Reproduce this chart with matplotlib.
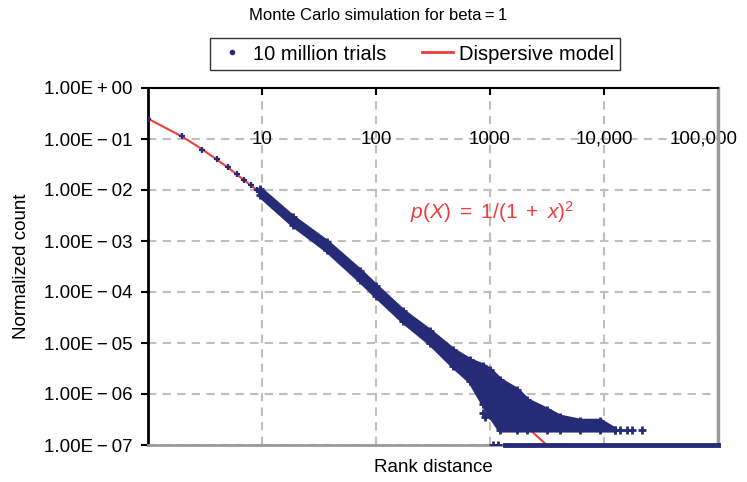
import matplotlib.pyplot as plt
from matplotlib.lines import Line2D

plt.rcParams['font.family'] = ['Liberation Sans', 'DejaVu Sans']
plt.rcParams['mathtext.fontset'] = 'custom'
plt.rcParams['mathtext.rm'] = 'Liberation Sans'
plt.rcParams['mathtext.it'] = 'Liberation Sans:italic'

NAVY = '#262b78'
RED = '#f23c3c'

# single ranks at the head of the distribution
head_rank = [1, 2, 3, 4, 5, 6, 7, 8, 9, 10, 11, 12, 13, 14, 15, 16, 18, 20]
head_count = [0.25, 0.112, 0.062, 0.040, 0.0277, 0.0205, 0.0157, 0.0123, 0.0100,
              0.0083, 0.0069, 0.0059, 0.0051, 0.0045, 0.0039, 0.0035, 0.0028, 0.0023]

# dense part of the cloud: upper / lower envelope
band_rank = [9.6, 18.7, 37.2, 72.4, 100, 172.6, 298, 473, 668, 870, 1000, 1220,
             1725, 2110, 3160, 4110, 6170, 9230, 12500]
band_hi = [0.0105, 0.0029, 9.5e-4, 2.6e-4, 1.3e-4, 4.2e-5, 1.7e-5, 7.3e-6, 4.6e-6, 3.6e-6,
           2.95e-6, 1.9e-6, 1.2e-6, 7.6e-7, 4.9e-7, 3.6e-7, 3e-7, 3e-7, 2e-7]
band_lo = [7.9e-3, 2.1e-3, 6.6e-4, 1.7e-4, 0.85e-4, 2.7e-5, 1e-5, 3.6e-6, 1.8e-6, 6.5e-7,
           3.8e-7, 2e-7, 2e-7, 2e-7, 2e-7, 2e-7, 2e-7, 2e-7, 2e-7]

# stray points in the tail
stray_rank = [870, 900, 13900, 15900, 17600, 21500, 1070, 1170]
stray_count = [4.2e-7, 3.6e-7, 2e-7, 2e-7, 2e-7, 2e-7, 1e-7, 1e-7]

# single-hit floor
floor_rank = [1360, 100000]
floor_count = [1e-7, 1e-7]

# dispersive model curve
model_rank = [1, 2, 3, 5, 10, 20, 50, 100, 200, 500, 1000, 2000, 3000]
model_count = [0.25, 0.111, 0.0625, 0.0278, 0.0083, 0.00227, 3.8e-4, 9.8e-5,
               2.5e-5, 4e-6, 1e-6, 2.5e-7, 1.1e-7]

ytick_vals = [1e0, 1e-1, 1e-2, 1e-3, 1e-4, 1e-5, 1e-6, 1e-7]
ytick_text = ['1.00E\u2009+\u200900', '1.00E\u2009\u2212\u200901', '1.00E\u2009\u2212\u200902',
              '1.00E\u2009\u2212\u200903', '1.00E\u2009\u2212\u200904', '1.00E\u2009\u2212\u200905',
              '1.00E\u2009\u2212\u200906', '1.00E\u2009\u2212\u200907']
xtick_vals = [10, 100, 1000, 10000, 100000]
xtick_text = ['10', '100', '1000', '10,000', '100,000']

fig = plt.figure(figsize=(7.47, 4.82), dpi=100)
ax = fig.add_axes([148 / 747, 1 - 445 / 482, 570 / 747, 357 / 482])
ax.set_xscale('log')
ax.set_yscale('log')
ax.set_xlim(1, 1e5)
ax.set_ylim(1e-7, 1)

ax.plot(model_rank, model_count, color=RED, lw=1.5, zorder=2)
ax.fill_between(band_rank, band_lo, band_hi, color=NAVY, lw=3.5, edgecolor=NAVY, zorder=3)
ax.plot(band_rank, band_hi, '+', color=NAVY, ms=6, mew=2, zorder=3)
ax.plot(band_rank, band_lo, '+', color=NAVY, ms=6, mew=2, zorder=3)
ax.plot(head_rank, head_count, '+', color=NAVY, ms=5, mew=1.6, zorder=3)
ax.plot(stray_rank, stray_count, '+', color=NAVY, ms=6, mew=2, zorder=3)
ax.plot(floor_rank, floor_count, color=NAVY, lw=3.5, zorder=4, clip_on=False)

ax.set_yticks(ytick_vals)
ax.set_yticklabels(ytick_text, fontsize=13.5)
ax.yaxis.set_minor_locator(plt.NullLocator())
ax.set_xticks(xtick_vals[:-1])
ax.xaxis.set_minor_locator(plt.NullLocator())
ax.xaxis.set_ticks_position('top')
ax.tick_params(axis='x', direction='in', length=5, width=1.5, labeltop=False, labelbottom=False)
ax.tick_params(axis='y', direction='out', length=5, width=1.5, pad=6)

for v, t in zip(xtick_vals, xtick_text):
    dx = -14 if v == 100000 else 0
    ax.annotate(t, xy=(v, 0.1), xytext=(dx, 0), textcoords='offset pixels',
                ha='center', va='center', fontsize=13.5, zorder=1)

ax.grid(True, which='major', ls=(0, (4, 3)), color='#bfbfbf', lw=1.5, zorder=0)
ax.set_axisbelow(True)

ax.spines['left'].set_color('black')
ax.spines['left'].set_linewidth(2)
ax.spines['top'].set_color('black')
ax.spines['top'].set_linewidth(1.5)
ax.spines['right'].set_color('#9a9a9a')
ax.spines['right'].set_linewidth(2.5)
ax.spines['bottom'].set_color('#9a9a9a')
ax.spines['bottom'].set_linewidth(2)

ax.text((410 - 148) / 570, (445 - 212) / 357, r'$p(X)\ =\ 1/(1\ +\ x)^2$',
        transform=ax.transAxes, color=RED, fontsize=15, ha='left', va='center')
ax.set_ylabel('Normalized count', fontsize=13.5, va='center')
ax.yaxis.set_label_coords((22 - 148) / 570, 0.5)
ax.set_xlabel('Rank distance', fontsize=13.5, va='center')
ax.xaxis.set_label_coords(0.5, (445 - 467) / 357)

fig.text(378 / 747, 1 - 16 / 482, 'Monte Carlo simulation for beta\u2009=\u20091',
         ha='center', va='center', fontsize=12)

handles = [Line2D([], [], ls='none', marker='o', ms=3, color=NAVY),
           Line2D([], [], color=RED, lw=2)]
leg = fig.legend(handles, ['10 million trials', 'Dispersive model'], ncol=2,
                 loc='center', bbox_to_anchor=(415 / 747, 1 - 54 / 482),
                 fontsize=14.5, frameon=True, fancybox=False, edgecolor='black',
                 handlelength=1.5, handletextpad=0.3, columnspacing=1.8,
                 borderpad=0.3, borderaxespad=0)
leg.get_frame().set_linewidth(1)

fig.savefig('out.png', dpi=100)
